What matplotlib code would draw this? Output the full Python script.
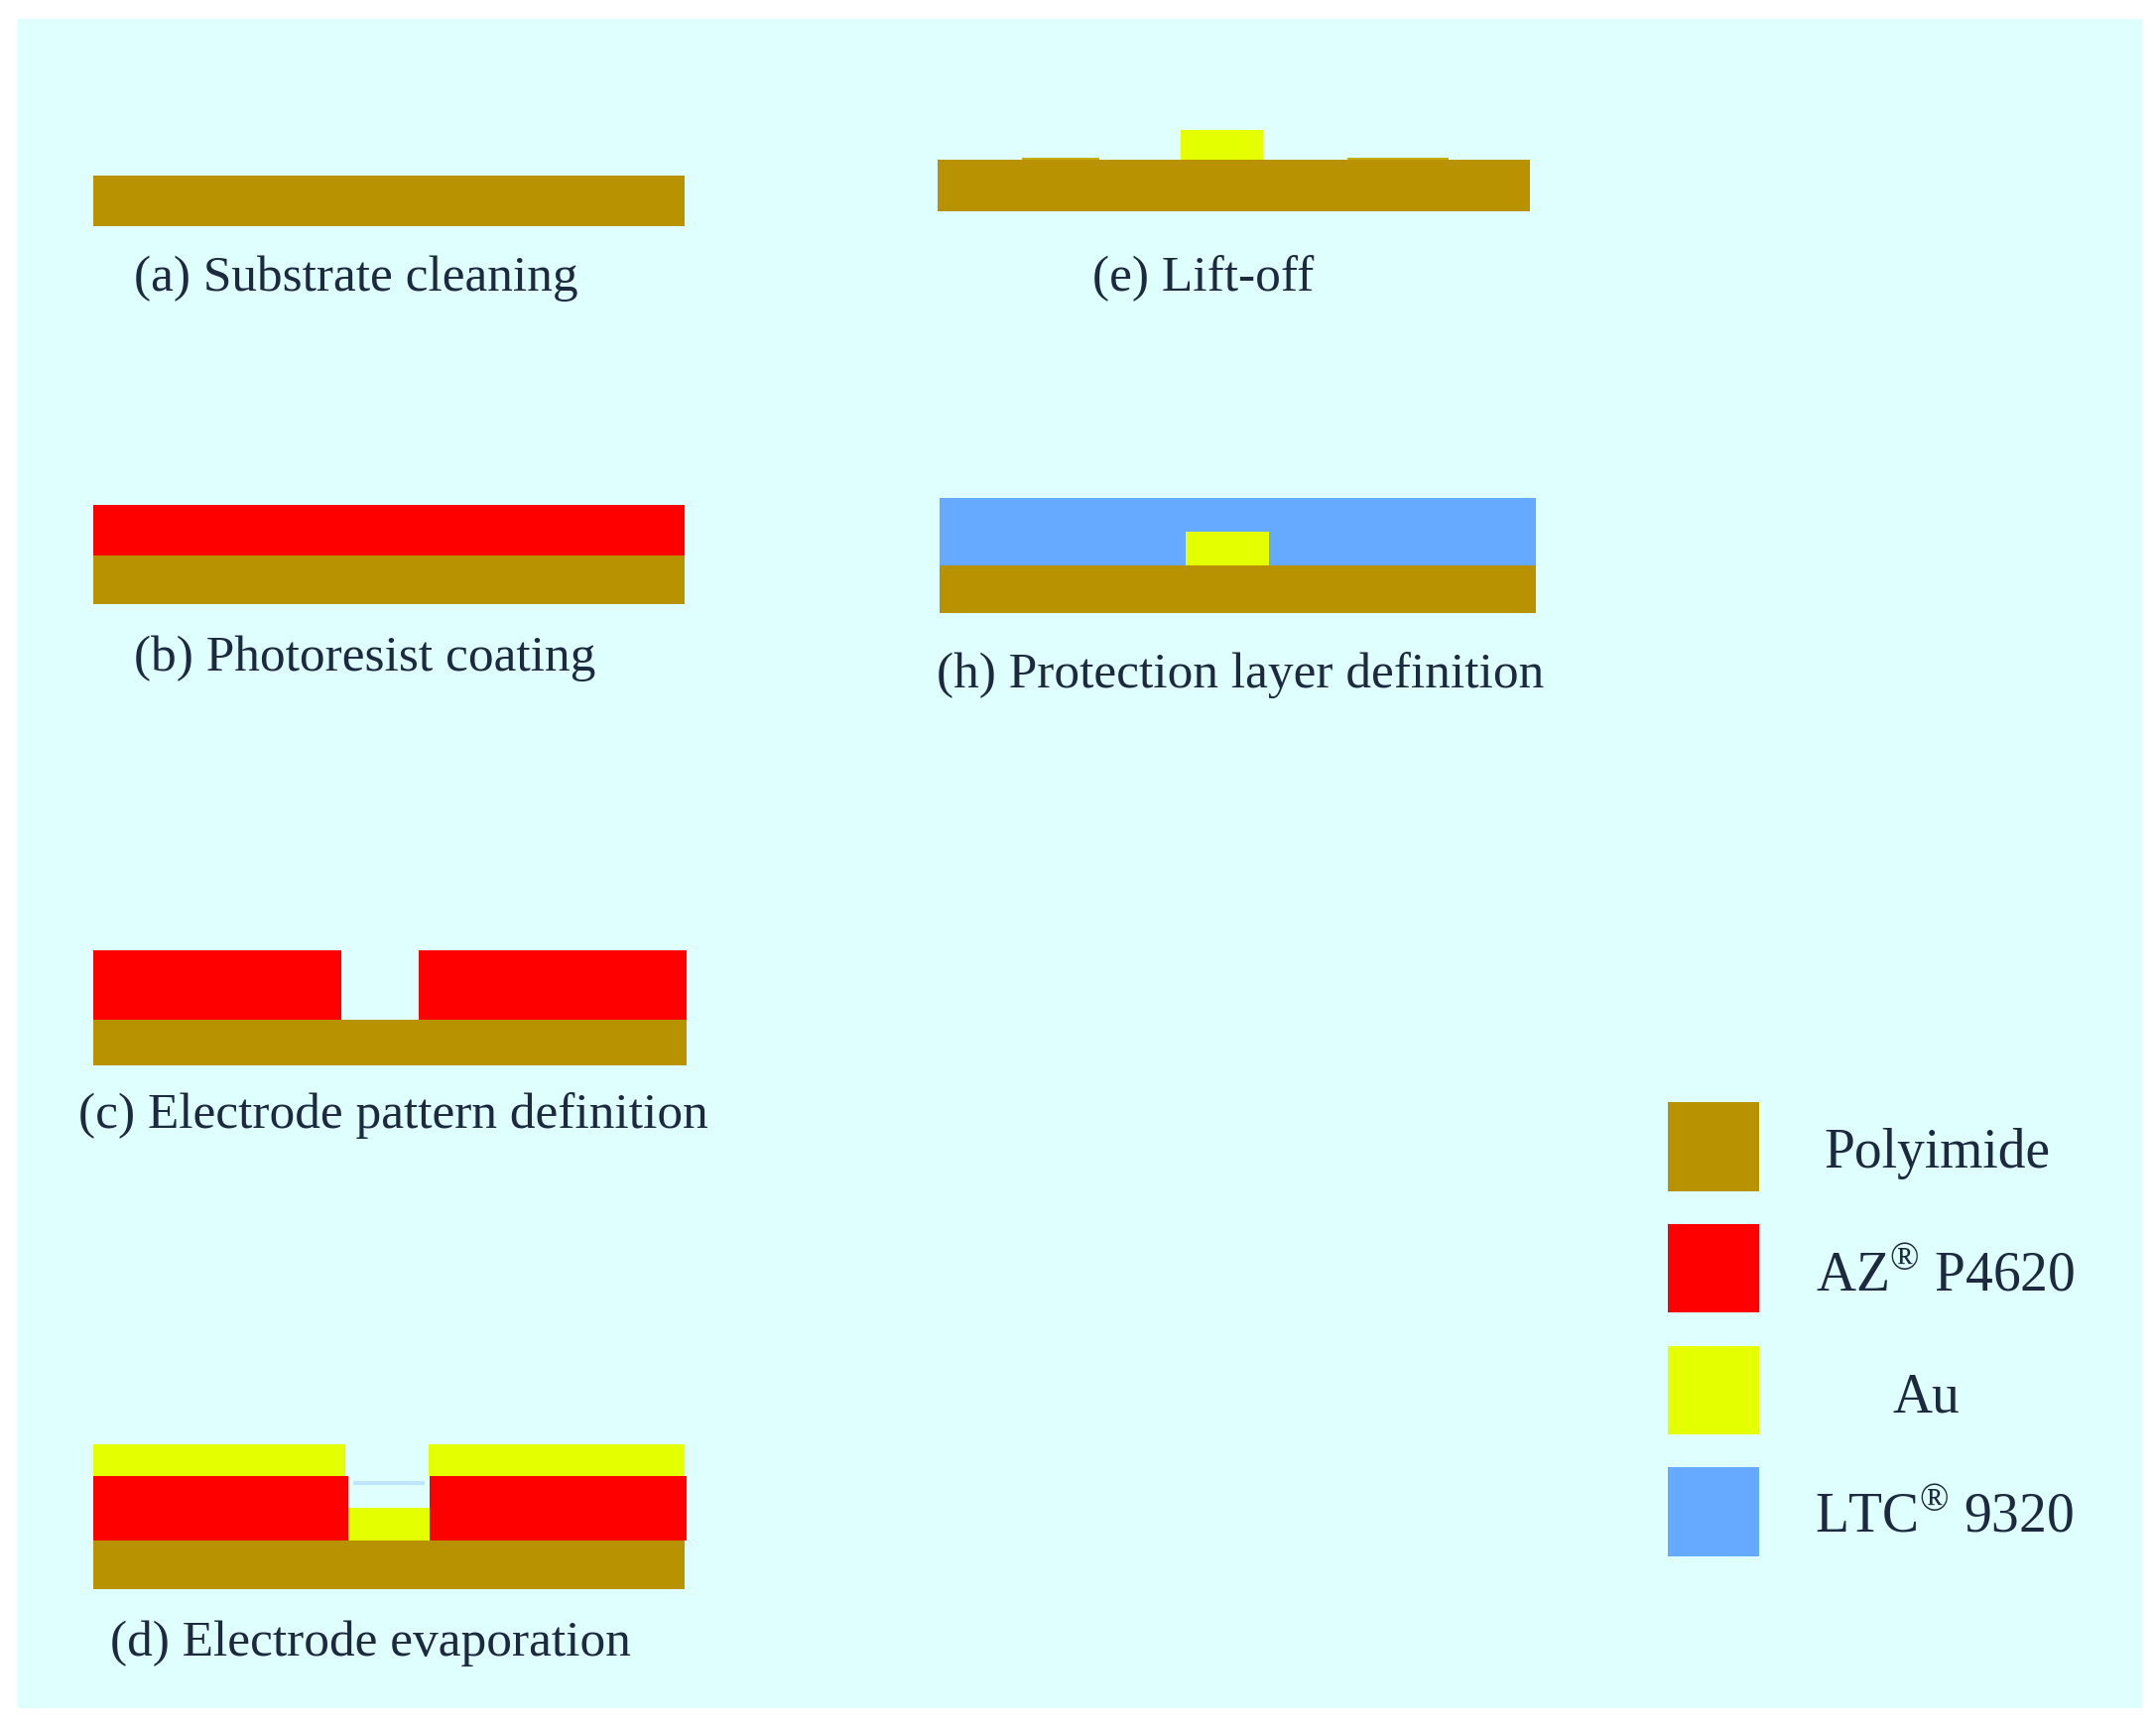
import matplotlib
matplotlib.use('Agg')
import matplotlib.pyplot as plt
import numpy as np

plt.rcParams['font.family'] = ['Liberation Serif', 'DejaVu Serif']
plt.rcParams['mathtext.fontset'] = 'custom'
plt.rcParams['mathtext.rm'] = 'Liberation Serif'

# layers, in image pixels: left, right, top, bottom
polyimide_x0 = [94, 94, 94, 94, 945, 947, 1681]
polyimide_x1 = [690, 690, 692, 690, 1542, 1548, 1773]
polyimide_y0 = [177, 560, 1028, 1553, 161, 570, 1111]
polyimide_y1 = [228, 609, 1074, 1602, 213, 618, 1201]

resist_x0 = [94, 94, 422, 94, 433, 1681]
resist_x1 = [690, 344, 692, 351, 692, 1773]
resist_y0 = [509, 958, 958, 1488, 1488, 1234]
resist_y1 = [560, 1028, 1028, 1553, 1553, 1323]

gold_x0 = [94, 432, 351, 1190, 1195, 1681]
gold_x1 = [348, 690, 433, 1273, 1279, 1773]
gold_y0 = [1456, 1456, 1520, 131, 536, 1357]
gold_y1 = [1488, 1488, 1553, 161, 570, 1446]

# thin remains on the lift-off substrate
thin_x0 = [1030, 1358]
thin_x1 = [1108, 1460]
thin_y0 = [159, 159]
thin_y1 = [161, 161]

ltc_x0 = [947, 1681]
ltc_x1 = [1548, 1773]
ltc_y0 = [502, 1479]
ltc_y1 = [570, 1569]

# faint line in the opening of panel (d)
gap_x0 = [356]
gap_x1 = [428]
gap_y0 = [1493]
gap_y1 = [1497]

labels = ['(a) Substrate cleaning', '(b) Photoresist coating',
          '(c) Electrode pattern definition', '(d) Electrode evaporation',
          '(e) Lift-off', '(h) Protection layer definition']
label_x = [135, 135, 79, 111, 1101, 944]
label_y = [281, 664, 1125, 1657, 281, 681]

legend_names = ['Polyimide', r'AZ$^{\mathrm{®}}$ P4620', 'Au', r'LTC$^{\mathrm{®}}$ 9320']
legend_x = [1952, 1961, 1941, 1960]
legend_y = [1163, 1287, 1409, 1530]

fig = plt.figure(figsize=(21.73, 17.42), dpi=100, facecolor='white')
ax = fig.add_axes([0, 0, 1, 1])
ax.set_xlim(0, 2173)
ax.set_ylim(1742, 0)
ax.axis('off')


def draw_layers(x0, x1, y0, y1, color, zorder=3):
    x0, x1, y0, y1 = map(np.array, (x0, x1, y0, y1))
    ax.bar(x0, y1 - y0, width=x1 - x0, bottom=y0, align='edge',
           color=color, linewidth=0, zorder=zorder)


draw_layers([18], [2159], [19], [1722], '#DFFFFF', zorder=1)
draw_layers(polyimide_x0, polyimide_x1, polyimide_y0, polyimide_y1, '#B89200')
draw_layers(thin_x0, thin_x1, thin_y0, thin_y1, '#C4AC00')
draw_layers(ltc_x0, ltc_x1, ltc_y0, ltc_y1, '#66AAFF')
draw_layers(resist_x0, resist_x1, resist_y0, resist_y1, '#FF0000')
draw_layers(gold_x0, gold_x1, gold_y0, gold_y1, '#E4FF00', zorder=4)
draw_layers(gap_x0, gap_x1, gap_y0, gap_y1, '#BFE4FF')

for name, x, y in zip(labels, label_x, label_y):
    ax.text(x, y, name, fontsize=37, color='#1B2A3E', ha='left', va='center', zorder=5)

for name, x, y in zip(legend_names, legend_x, legend_y):
    ax.text(x, y, name, fontsize=40, color='#1B2A3E', ha='center', va='center', zorder=5)

plt.savefig('out.png', dpi=100, facecolor='white')
